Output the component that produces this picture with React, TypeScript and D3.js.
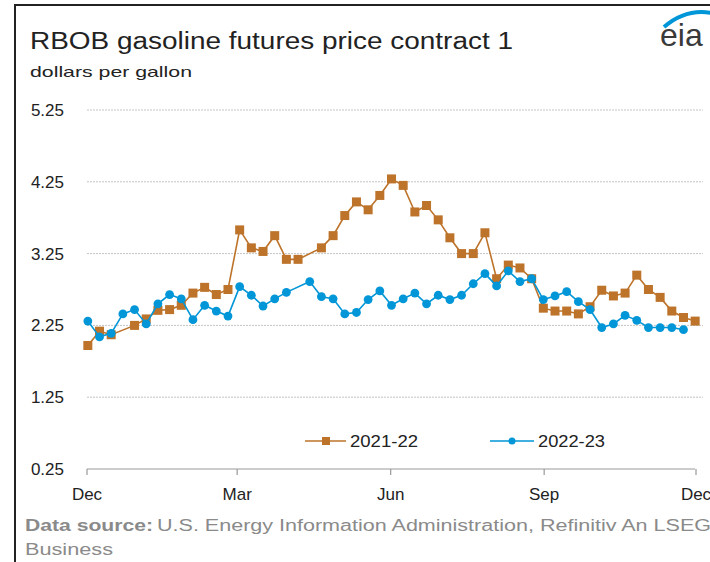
import React from "react";
import * as d3 from "d3";

const title = "RBOB gasoline futures price contract 1";
const subtitle = "dollars per gallon";
const seriesNames = ["2021-22", "2022-23"];
const monthLabels = ["Dec", "Mar", "Jun", "Sep", "Dec"];
const monthDays = [0, 90, 182, 274, 365];
const yTicks = [0.25, 1.25, 2.25, 3.25, 4.25, 5.25];

// weekly values, null = missing week
const s2122: (number | null)[] = [
  1.97, 2.17, 2.12, null, 2.25, 2.34, 2.46, 2.47, 2.53, 2.7, 2.78, 2.68, 2.75,
  3.58, 3.33, 3.28, 3.5, 3.17, 3.17, null, 3.33, 3.5, 3.78, 3.97, 3.86, 4.06,
  4.29, 4.2, 3.83, 3.92, 3.72, 3.47, 3.25, 3.25, 3.54, 2.9, 3.09, 3.05, 2.9,
  2.49, 2.45, 2.45, 2.41, 2.51, 2.74, 2.66, 2.7, 2.95, 2.75, 2.64, 2.45, 2.36,
  2.31,
];
const s2223: (number | null)[] = [
  2.31, 2.09, 2.14, 2.41, 2.47, 2.27, 2.55, 2.68, 2.62, 2.33, 2.53, 2.45, 2.38,
  2.79, 2.67, 2.52, 2.62, 2.71, null, 2.86, 2.65, 2.62, 2.41, 2.43, 2.61, 2.73,
  2.53, 2.62, 2.7, 2.55, 2.67, 2.61, 2.67, 2.83, 2.97, 2.8, 3.01, 2.86, 2.9,
  2.61, 2.66, 2.72, 2.58, 2.47, 2.22, 2.27, 2.39, 2.32, 2.22, 2.22, 2.22, 2.19,
];

const ORANGE = "#bd732a";
const BLUE = "#0096d7";
const FONT = "'Liberation Sans', Arial, sans-serif";

export default function App() {
  const x = d3.scaleLinear().domain([0, 365]).range([87, 696]);
  const y = d3.scaleLinear().domain([0.25, 5.25]).range([469, 110]);
  const dayOf = (i: number) => i * 7 + 0.5;

  const toPts = (arr: (number | null)[]) =>
    arr
      .map((v, i) => ({ i, v }))
      .filter((d) => d.v !== null) as { i: number; v: number }[];

  const line = d3
    .line<{ i: number; v: number }>()
    .x((d) => x(dayOf(d.i)))
    .y((d) => y(d.v));

  const p1 = toPts(s2122);
  const p2 = toPts(s2223);
  const sq = 9;

  return (
    <svg
      width={710}
      height={562}
      style={{ position: "absolute", left: 0, top: 0, background: "#fff" }}
      fontFamily={FONT}
    >
      <rect x={0} y={0} width={710} height={562} fill="#fff" />
      {/* frame */}
      <line x1={15} y1={5} x2={710} y2={5} stroke="#222" strokeWidth={2} />
      <line x1={15} y1={4} x2={15} y2={562} stroke="#222" strokeWidth={2} />

      {/* title */}
      <text x={30} y={49} fontSize={23} fill="#222" textLength={483} lengthAdjust="spacingAndGlyphs">
        {title}
      </text>
      <text x={30} y={77} fontSize={15} fill="#222" textLength={162} lengthAdjust="spacingAndGlyphs">
        {subtitle}
      </text>

      {/* eia logo */}
      <path d="M664,27 Q686,8 712,13" fill="none" stroke={BLUE} strokeWidth={4} />
      <text x={660} y={46} fontSize={32} fill="#3a3a3a">
        eia
      </text>

      {/* gridlines */}
      {yTicks.slice(1).map((t) => (
        <line
          key={t}
          x1={87}
          x2={703}
          y1={y(t)}
          y2={y(t)}
          stroke="#c4c4c4"
          strokeWidth={1}
          strokeDasharray="2,1"
        />
      ))}
      {yTicks.map((t) => (
        <text key={t} x={64} y={y(t)} dy="0.35em" fontSize={17} fill="#222" textAnchor="end">
          {t.toFixed(2)}
        </text>
      ))}

      {/* x axis */}
      <line x1={87} x2={695} y1={469} y2={469} stroke="#999" strokeWidth={1.2} />
      {monthDays.map((d, k) => (
        <g key={k}>
          <line x1={x(d)} x2={x(d)} y1={469} y2={475} stroke="#999" strokeWidth={1.2} />
          <text x={x(d)} y={500} fontSize={17} fill="#222" textAnchor="middle">
            {monthLabels[k]}
          </text>
        </g>
      ))}

      {/* series 2021-22 */}
      <path d={line(p1) || ""} fill="none" stroke={ORANGE} strokeWidth={1.6} />
      {p1.map((d) => (
        <rect
          key={d.i}
          x={x(dayOf(d.i)) - sq / 2}
          y={y(d.v) - sq / 2}
          width={sq}
          height={sq}
          fill={ORANGE}
        />
      ))}

      {/* series 2022-23 */}
      <path d={line(p2) || ""} fill="none" stroke={BLUE} strokeWidth={1.6} />
      {p2.map((d) => (
        <circle key={d.i} cx={x(dayOf(d.i))} cy={y(d.v)} r={4.4} fill={BLUE} />
      ))}

      {/* legend */}
      <line x1={305} x2={346} y1={441} y2={441} stroke={ORANGE} strokeWidth={1.6} />
      <rect x={322} y={437} width={8} height={8} fill={ORANGE} />
      <text x={350} y={447} fontSize={17} fill="#222" textLength={68} lengthAdjust="spacingAndGlyphs">
        {seriesNames[0]}
      </text>
      <line x1={490} x2={534} y1={441} y2={441} stroke={BLUE} strokeWidth={1.6} />
      <circle cx={512} cy={441} r={3.5} fill={BLUE} />
      <text x={538} y={447} fontSize={17} fill="#222" textLength={67} lengthAdjust="spacingAndGlyphs">
        {seriesNames[1]}
      </text>

      {/* source */}
      <text x={25} y={531} fontSize={16} fill="#8a8a8a" fontWeight="bold" textLength={128} lengthAdjust="spacingAndGlyphs">
        Data source:
      </text>
      <text x={157} y={531} fontSize={16} fill="#8a8a8a" textLength={554} lengthAdjust="spacingAndGlyphs">
        U.S. Energy Information Administration, Refinitiv An LSEG
      </text>
      <text x={25} y={555} fontSize={16} fill="#8a8a8a" textLength={88} lengthAdjust="spacingAndGlyphs">
        Business
      </text>
    </svg>
  );
}
